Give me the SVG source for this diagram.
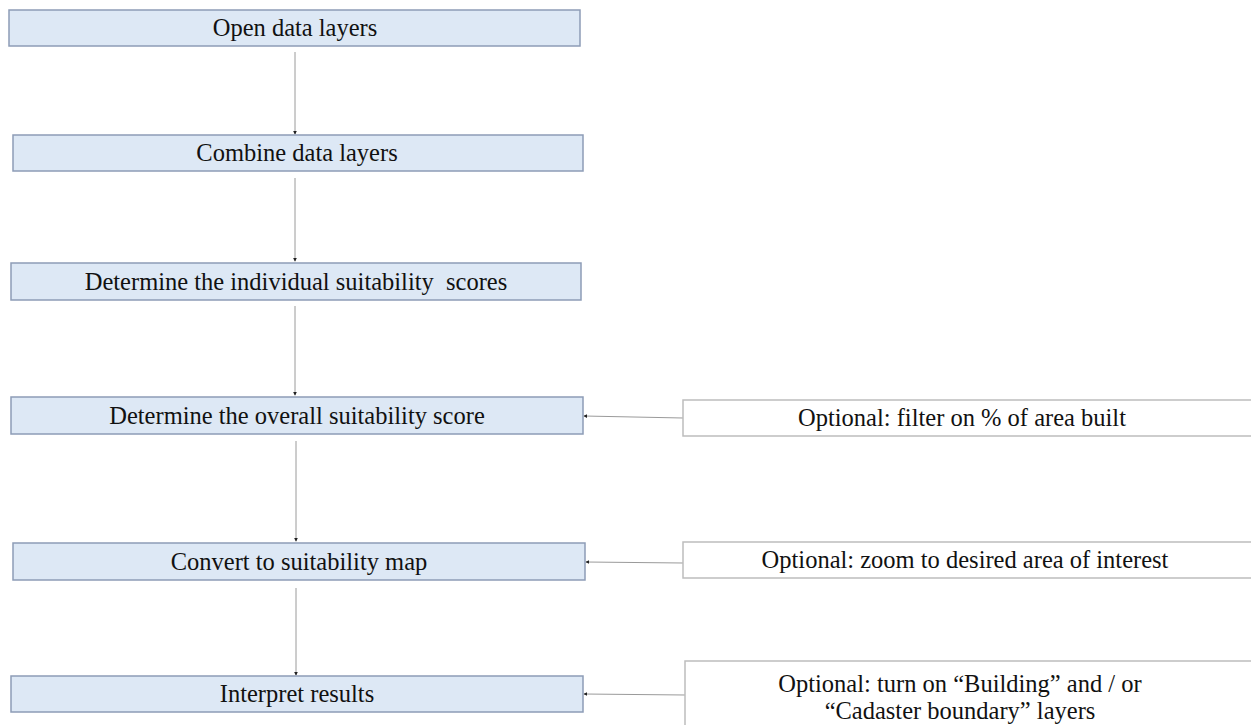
<svg xmlns="http://www.w3.org/2000/svg" width="1251" height="725" viewBox="0 0 1251 725">
<defs>
<style>
.step{fill:#dde8f5;stroke:#8d9cb6;stroke-width:1.5}
.opt{fill:#ffffff;stroke:#bdbdbd;stroke-width:1.5}
.t{font-family:"Liberation Serif","Times New Roman",serif;font-size:24.5px;fill:#111;text-anchor:middle}
.c{stroke:#9a9a9a;stroke-width:1;fill:none;marker-end:url(#ah)}
</style>
<marker id="ah" viewBox="0 0 6 6" refX="5" refY="3" markerWidth="4" markerHeight="4" markerUnits="userSpaceOnUse" orient="auto">
<path d="M0,0 L6,3 L0,6 z" fill="#222"/>
</marker>
</defs>
<rect width="1251" height="725" fill="#ffffff"/>
<g id="connectors">
<line class="c" x1="295" y1="52" x2="295" y2="134"/>
<line class="c" x1="295" y1="178" x2="295" y2="261"/>
<line class="c" x1="295" y1="306" x2="295" y2="395"/>
<line class="c" x1="296" y1="441" x2="296" y2="541"/>
<line class="c" x1="296" y1="588" x2="296" y2="675"/>
<line class="c" x1="683" y1="418" x2="584" y2="416"/>
<line class="c" x1="683" y1="563" x2="586" y2="562"/>
<line class="c" x1="685" y1="695" x2="584" y2="694"/>
</g>
<g id="n1"><rect class="step" x="9" y="10" width="571" height="36"/><text class="t" x="295" y="36">Open data layers</text></g>
<g id="n2"><rect class="step" x="13" y="135" width="570" height="36"/><text class="t" x="297" y="161">Combine data layers</text></g>
<g id="n3"><rect class="step" x="11" y="263" width="570" height="37"/><text class="t" x="296" y="290" xml:space="preserve">Determine the individual suitability  scores</text></g>
<g id="n4"><rect class="step" x="11" y="397" width="572" height="37"/><text class="t" x="297" y="424">Determine the overall suitability score</text></g>
<g id="n5"><rect class="step" x="13" y="543" width="572" height="37"/><text class="t" x="299" y="570">Convert to suitability map</text></g>
<g id="n6"><rect class="step" x="11" y="676" width="572" height="36"/><text class="t" x="297" y="702">Interpret results</text></g>
<g id="o1"><rect class="opt" x="683" y="400" width="600" height="36"/><text class="t" x="962" y="426">Optional: filter on % of area built</text></g>
<g id="o2"><rect class="opt" x="683" y="542" width="600" height="36"/><text class="t" x="965" y="568">Optional: zoom to desired area of interest</text></g>
<g id="o3"><rect class="opt" x="685" y="661" width="600" height="100"/><text class="t" x="960" y="692">Optional: turn on “Building” and / or</text><text class="t" x="960" y="719">“Cadaster boundary” layers</text></g>
</svg>
